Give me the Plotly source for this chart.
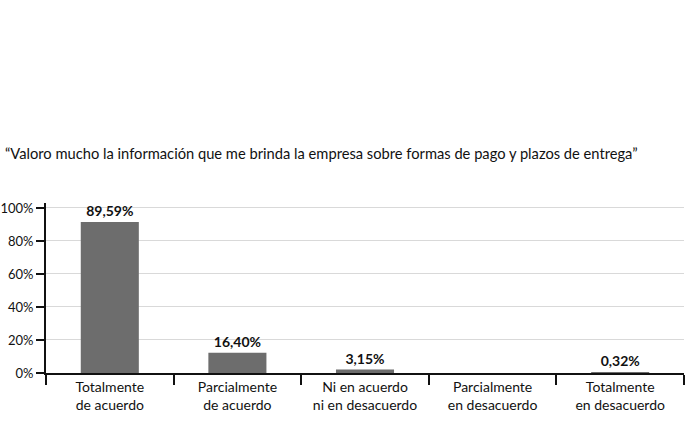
import plotly.graph_objects as go

categorias = [
    "Totalmente<br>de acuerdo",
    "Parcialmente<br>de acuerdo",
    "Ni en acuerdo<br>ni en desacuerdo",
    "Parcialmente<br>en desacuerdo",
    "Totalmente<br>en desacuerdo",
]
# alturas de las barras tal como se ven en el grafico
alturas = [91.5, 12.2, 2.1, 0, 0.4]
etiquetas = ["89,59%", "16,40%", "3,15%", "", "0,32%"]
ticks_y = [0, 20, 40, 60, 80, 100]
ticks_y_texto = ["0%", "20%", "40%", "60%", "80%", "100%"]

titulo = "“Valoro mucho la información que me brinda la empresa sobre formas de pago y plazos de entrega”"

fig = go.Figure(
    data=[
        go.Bar(
            x=categorias,
            y=alturas,
            text=etiquetas,
            textposition="outside",
            cliponaxis=False,
            textfont=dict(size=14, color="#111111", family="Lato", weight="bold"),
            marker=dict(color="#6d6d6d", line=dict(width=0)),
            width=0.455,
        )
    ]
)

fig.update_layout(
    width=685,
    height=432,
    paper_bgcolor="white",
    plot_bgcolor="white",
    showlegend=False,
    margin=dict(l=46, r=1, t=203, b=59, autoexpand=False),
    font=dict(family="Lato", size=14, color="#111111"),
    annotations=[
        dict(
            text=titulo,
            xref="paper",
            yref="paper",
            x=-43 / 638,
            y=1 + 50 / 170,
            xanchor="left",
            yanchor="middle",
            showarrow=False,
            font=dict(size=14.7, color="#111111", family="Lato"),
        )
    ],
)

fig.update_xaxes(
    showline=True,
    linecolor="#111111",
    linewidth=1.8,
    ticks="outside",
    tickson="boundaries",
    ticklen=10,
    tickwidth=1.8,
    tickcolor="#111111",
    showgrid=False,
    tickfont=dict(size=14),
)

fig.update_yaxes(
    range=[0, 103],
    tickvals=ticks_y,
    ticktext=ticks_y_texto,
    showline=True,
    linecolor="#111111",
    linewidth=1.8,
    ticks="outside",
    ticklen=8,
    tickwidth=1.8,
    tickcolor="#111111",
    showgrid=True,
    gridcolor="#d9d9d9",
    gridwidth=1,
    zeroline=False,
    tickfont=dict(size=13),
)

# quitar el margen por defecto del body para que la figura empiece en (0, 0)
fig.write_html(
    "out.html",
    config={"displayModeBar": False},
    post_script="document.body.style.margin = '0';",
)
